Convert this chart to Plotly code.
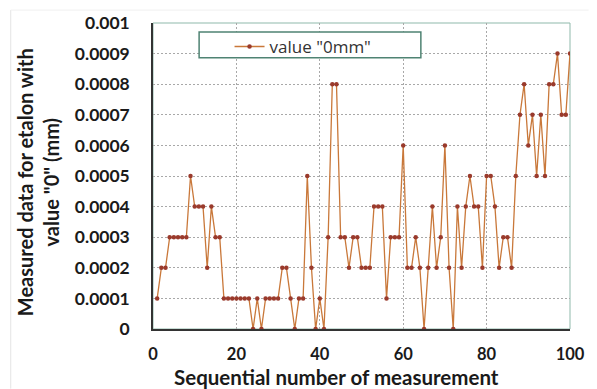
import plotly.graph_objects as go

# Measurement index and measured values (mm) for the zero etalon
measurement_no = list(range(1, 101))
measured_mm = [
    0.0001, 0.0002, 0.0002, 0.0003, 0.0003, 0.0003, 0.0003, 0.0003, 0.0005, 0.0004,
    0.0004, 0.0004, 0.0002, 0.0004, 0.0003, 0.0003, 0.0001, 0.0001, 0.0001, 0.0001,
    0.0001, 0.0001, 0.0001, 0.0000, 0.0001, 0.0000, 0.0001, 0.0001, 0.0001, 0.0001,
    0.0002, 0.0002, 0.0001, 0.0000, 0.0001, 0.0001, 0.0005, 0.0002, 0.0000, 0.0001,
    0.0000, 0.0003, 0.0008, 0.0008, 0.0003, 0.0003, 0.0002, 0.0003, 0.0003, 0.0002,
    0.0002, 0.0002, 0.0004, 0.0004, 0.0004, 0.0001, 0.0003, 0.0003, 0.0003, 0.0006,
    0.0002, 0.0002, 0.0003, 0.0002, 0.0000, 0.0002, 0.0004, 0.0002, 0.0003, 0.0006,
    0.0002, 0.0000, 0.0004, 0.0002, 0.0004, 0.0005, 0.0004, 0.0004, 0.0002, 0.0005,
    0.0005, 0.0004, 0.0002, 0.0003, 0.0003, 0.0002, 0.0005, 0.0007, 0.0008, 0.0006,
    0.0007, 0.0005, 0.0007, 0.0005, 0.0008, 0.0008, 0.0009, 0.0007, 0.0007, 0.0009,
]

x_ticks = [0, 20, 40, 60, 80, 100]
y_ticks = [0, 0.0001, 0.0002, 0.0003, 0.0004, 0.0005, 0.0006, 0.0007, 0.0008, 0.0009, 0.001]
y_tick_text = ["0", "0.0001", "0.0002", "0.0003", "0.0004", "0.0005",
               "0.0006", "0.0007", "0.0008", "0.0009", "0.001"]

W, H = 597, 389
ML, MR, MT, MB = 153, 19, 21, 60
PW, PH = W - ML - MR, H - MT - MB


def px_x(p):
    return (p - ML) / PW


def px_y(p):
    return (H - MB - p) / PH


FONT = "Lato"
INK = "#1a1a1a"

fig = go.Figure()
fig.add_trace(go.Scatter(
    x=measurement_no, y=measured_mm,
    mode="lines+markers",
    name='value "0mm"',
    line=dict(color="#c9783a", width=1.3),
    marker=dict(color="#9a3a2c", size=4.5, symbol="circle"),
))

grid = dict(showgrid=True, gridcolor="#a8a8a8", gridwidth=1, griddash="2px,2px")

fig.update_layout(
    width=W, height=H,
    margin=dict(l=ML, r=MR, t=MT, b=MB),
    paper_bgcolor="white", plot_bgcolor="white",
    font=dict(family=FONT, color=INK),
    showlegend=True,
    legend=dict(
        x=px_x(231), y=px_y(27), xanchor="left", yanchor="top",
        bgcolor="rgba(0,0,0,0)", borderwidth=0,
        font=dict(family="Open Sans", size=17, color="#333333"),
        itemwidth=30,
    ),
    xaxis=dict(
        range=[0, 100], tickvals=x_ticks, ticks="", zeroline=False,
        showline=True, linecolor="#333333", linewidth=1.5,
        tickfont=dict(family=FONT, size=16.5, color=INK, weight="bold"),
        ticklabelstandoff=9,
        **grid,
    ),
    yaxis=dict(
        range=[0, 0.001], tickvals=y_ticks, ticktext=y_tick_text, ticks="",
        zeroline=False, showline=True, linecolor="#333333", linewidth=1.5,
        tickfont=dict(family=FONT, size=17.5, color=INK, weight="bold"),
        ticklabelstandoff=18,
        **grid,
    ),
    shapes=[
        # thin top/right frame of the plot area
        dict(type="rect", xref="paper", yref="paper", x0=0, y0=0, x1=1, y1=1,
             line=dict(color="#8fb9ab", width=1), layer="below"),
        # legend box
        dict(type="rect", xref="paper", yref="paper",
             x0=px_x(200), x1=px_x(426), y0=px_y(56), y1=px_y(30),
             line=dict(color="#4f8373", width=1.5), fillcolor="white", layer="above"),
        # faint outer frame of the figure
        dict(type="line", xref="paper", yref="paper",
             x0=px_x(8), x1=px_x(8), y0=px_y(389), y1=px_y(8),
             line=dict(color="#e4e4e4", width=1)),
        dict(type="line", xref="paper", yref="paper",
             x0=px_x(8), x1=px_x(597), y0=px_y(8), y1=px_y(8),
             line=dict(color="#f0f0f0", width=1)),
    ],
    annotations=[
        dict(text="Sequential number of measurement", xref="paper", yref="paper",
             x=px_x(340), y=px_y(377), xanchor="center", yanchor="middle",
             showarrow=False, font=dict(family=FONT, size=20.5, color=INK, weight="bold")),
        dict(text='Measured data for etalon with<br>value "0" (mm)', xref="paper", yref="paper",
             x=px_x(36), y=px_y(181), xanchor="center", yanchor="middle", textangle=-90,
             showarrow=False, font=dict(family=FONT, size=20, color=INK, weight="bold")),
    ],
)

fig.write_html("out.html")
